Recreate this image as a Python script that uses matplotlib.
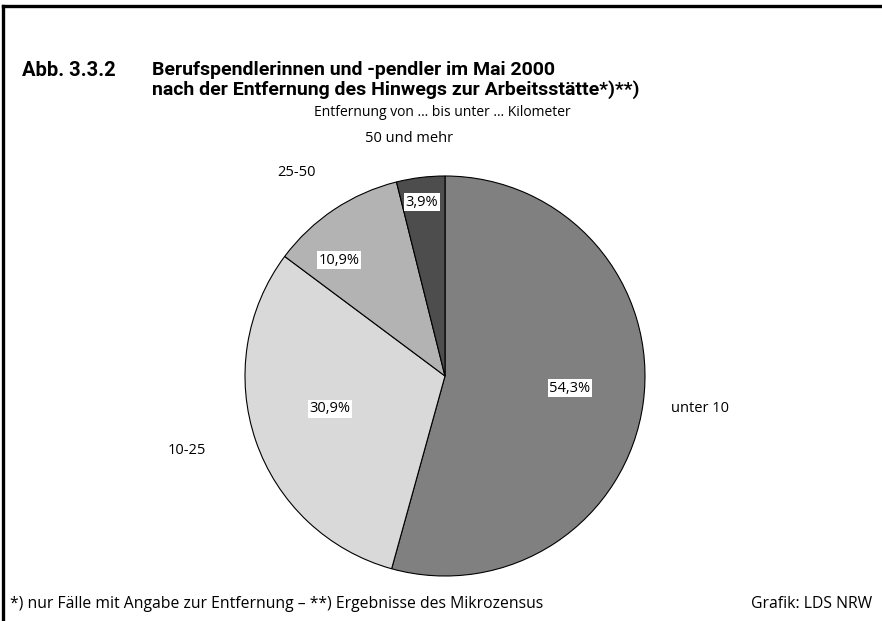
import matplotlib
matplotlib.use('Agg')
import matplotlib.pyplot as plt
from matplotlib.lines import Line2D

# Data
categories = ['unter 10', '10-25', '25-50', '50 und mehr']
shares = [54.3, 30.9, 10.9, 3.9]
pct_labels = ['54,3%', '30,9%', '10,9%', '3,9%']
colors = ['#808080', '#d9d9d9', '#b3b3b3', '#4d4d4d']

W, H = 882, 621
fig = plt.figure(figsize=(W / 100, H / 100), dpi=100)

def fx(x):
    return x / W

def fy(y):
    return 1 - y / H

# frame: thick top and left border only
fig.add_artist(Line2D([fx(3), 1], [fy(6), fy(6)], transform=fig.transFigure,
                      color='black', linewidth=2.4))
fig.add_artist(Line2D([fx(3), fx(3)], [fy(6), 0], transform=fig.transFigure,
                      color='black', linewidth=2.4))

bold = ['Roboto', 'DejaVu Sans']
regular = ['Open Sans', 'DejaVu Sans']

fig.text(fx(22), fy(70), 'Abb. 3.3.2', fontsize=14.5, fontweight='bold', family=bold, va='center')
fig.text(fx(152), fy(70), 'Berufspendlerinnen und -pendler im Mai 2000',
         fontsize=14, fontweight='bold', family=bold, va='center')
fig.text(fx(152), fy(90), 'nach der Entfernung des Hinwegs zur Arbeitsstätte*)**)',
         fontsize=14, fontweight='bold', family=bold, va='center')

# pie
cx, cy, r = 445, 376, 200
ax = fig.add_axes([fx(cx - r), (H - cy - r) / H, 2 * r / W, 2 * r / H])
ax.pie(shares, colors=colors, startangle=90, counterclock=False, radius=1,
       wedgeprops=dict(edgecolor='black', linewidth=0.8))
ax.set_xlim(-1, 1)
ax.set_ylim(-1, 1)
ax.set_aspect('auto')
ax.axis('off')

# label positions (axes data units)
pct_pos = [(0.625, -0.06), (-0.575, -0.165), (-0.53, 0.58), (-0.115, 0.87)]
cat_pos = [(1.275, -0.165), (-1.29, -0.375), (-0.745, 1.015), (-0.18, 1.19)]

for lab, (x, y) in zip(pct_labels, pct_pos):
    ax.text(x, y, lab, ha='center', va='center', fontsize=10.5, family=regular,
            bbox=dict(facecolor='white', edgecolor='none', pad=1))
for lab, (x, y) in zip(categories, cat_pos):
    ax.text(x, y, lab, ha='center', va='center', fontsize=10.5, family=regular, clip_on=False)
ax.text(-0.015, 1.315, 'Entfernung von … bis unter … Kilometer', ha='center', va='center',
        fontsize=10, family=regular, clip_on=False)

fig.text(fx(10), fy(604), '*) nur Fälle mit Angabe zur Entfernung – **) Ergebnisse des Mikrozensus',
         fontsize=11.3, family=regular, va='center')
fig.text(fx(872), fy(604), 'Grafik: LDS NRW', fontsize=11.3, family=regular, va='center', ha='right')

fig.savefig('out.png', dpi=100)
